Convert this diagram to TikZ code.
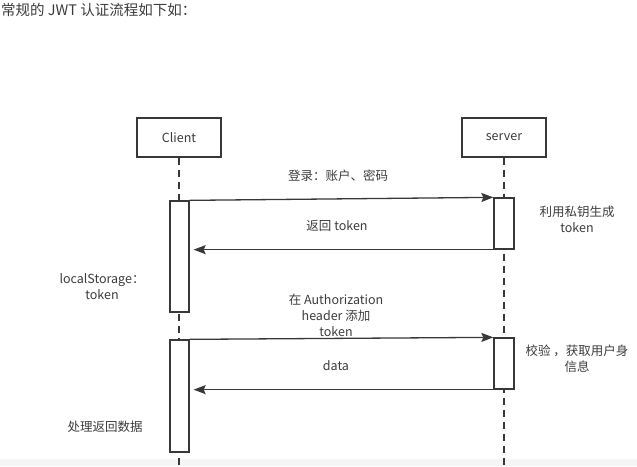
\documentclass[tikz,border=0pt]{standalone}
\usepackage{fontspec}
\setmainfont{Noto Sans CJK SC}
\usetikzlibrary{arrows.meta}
\definecolor{linegray}{HTML}{383838}
\definecolor{textgray}{HTML}{3C3C3C}
\tikzset{
  actor/.style={draw=linegray, line width=1.3pt, fill=white, minimum width=84pt, minimum height=39pt, inner sep=0pt, text=textgray, font=\fontsize{12.5}{15}\selectfont},
  active/.style={draw=linegray, line width=1.3pt, fill=white, minimum width=19pt, inner sep=0pt},
  msg/.style={draw=linegray, line width=1.3pt, -{Stealth[length=12pt,width=9pt,inset=2pt]}},
  life/.style={draw=linegray, line width=1.3pt, dash pattern=on 7pt off 5pt},
  lbl/.style={text=textgray, font=\fontsize{12.5}{16}\selectfont, align=center, inner sep=0pt},
}
\begin{document}
\begin{tikzpicture}[x=1pt, y=-1pt]
    \useasboundingbox (0,0) rectangle (637,466);
    \fill[black!4] (0,459) rectangle (637,466);
    \node[lbl, anchor=west, font=\fontsize{14.5}{17}\selectfont] (title) at (1,10) {常规的 JWT 认证流程如下如：};
    \node[actor] (client) at (179,137.5) {Client};
    \node[actor] (server) at (504,137.5) {server};
    \coordinate (clientend) at (179,466);
    \coordinate (serverend) at (504,466);
    \draw[life] (client) -- (clientend);
    \draw[life] (server) -- (serverend);
    \node[active, minimum height=111pt] (login) at (179.5,256.5) {};
    \node[active, minimum height=112pt] (fetch) at (179.5,396) {};
    \node[active, minimum width=20pt, minimum height=51pt] (sign) at (504,223.5) {};
    \node[active, minimum width=20pt, minimum height=51pt] (check) at (504,363.5) {};
    \draw[msg] (login.north east) -- (sign.north west);
    \draw[msg, shorten >=4pt] (sign.south west) -- (sign.south west -| login.east);
    \draw[msg] (fetch.north east) -- (check.north west);
    \draw[msg, shorten >=4pt] (check.south west) -- (check.south west -| fetch.east);
    \node[lbl] (loginmsg) at (338,176) {登录：账户、密码};
    \node[lbl] (tokenmsg) at (337,226) {返回 token};
    \node[lbl] (signnote) at (577,219) {利用私钥生成\\token};
    \node[lbl] (storenote) at (102,287) {localStorage：\\token};
    \node[lbl] (headermsg) at (336,315.5) {在 Authorization\\header 添加\\token};
    \node[lbl] (datamsg) at (336,366) {data};
    \node[lbl] (checknote) at (577,359) {校验 ，获取用户身\\信息};
    \node[lbl] (handlenote) at (105,427) {处理返回数据};
\end{tikzpicture}
\end{document}
